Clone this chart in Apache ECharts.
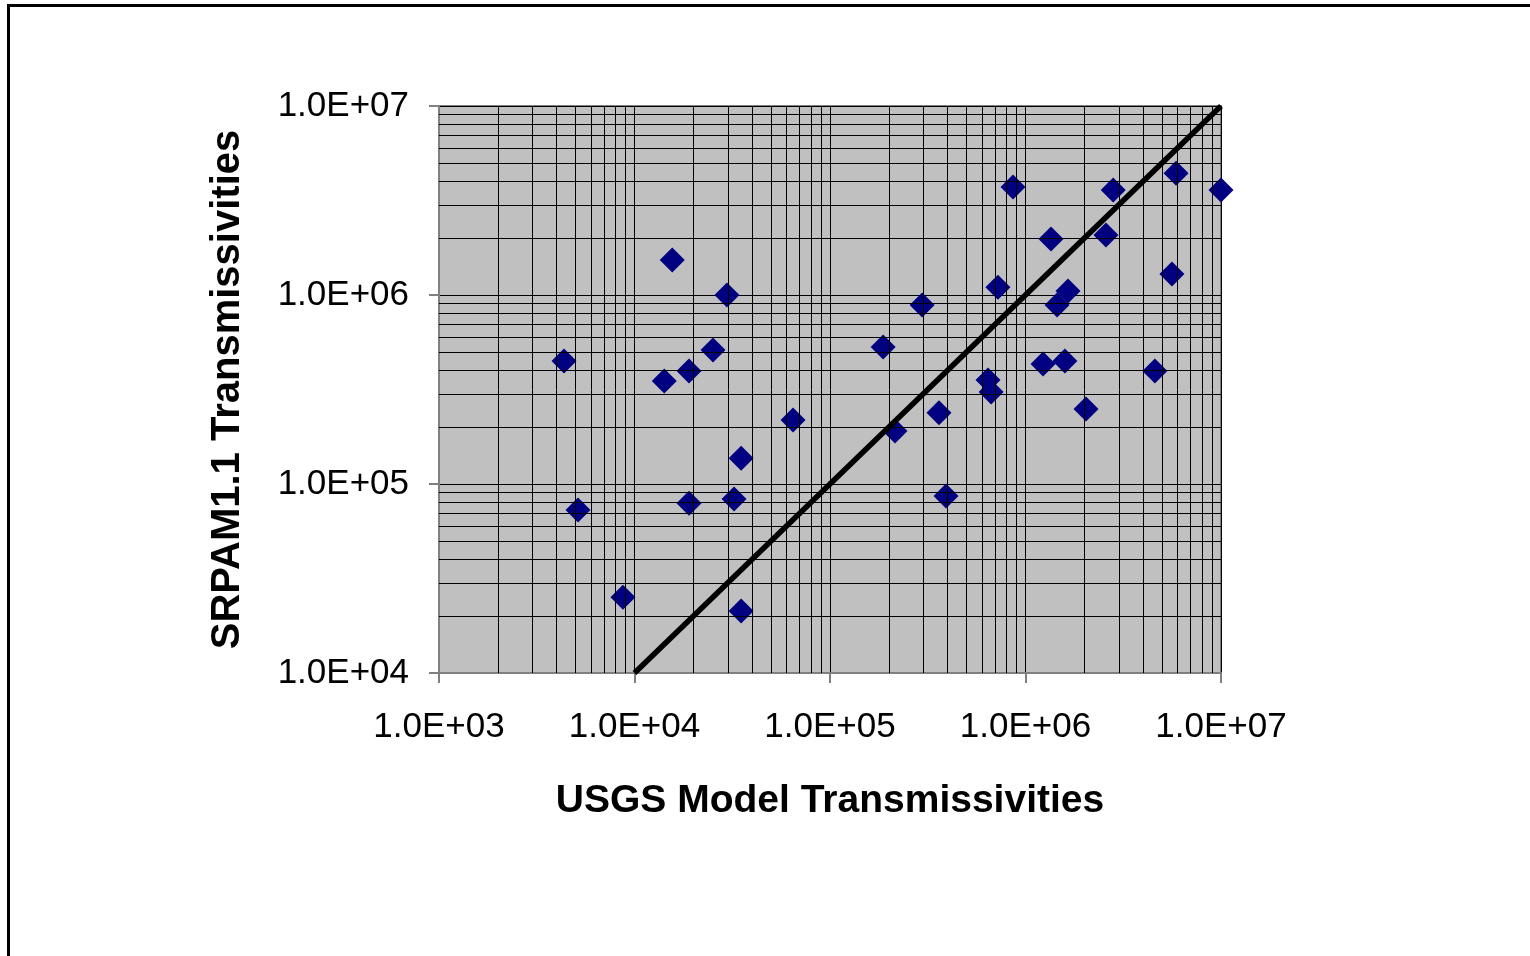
<!DOCTYPE html>
<html>
<head>
<meta charset="utf-8">
<style>
  html, body { margin: 0; padding: 0; background: #ffffff; }
  #chart { width: 1530px; height: 956px; }
</style>
<script src="https://cdn.jsdelivr.net/npm/echarts@6/dist/echarts.min.js"></script>
</head>
<body>
<div id="chart"></div>
<script>
// ---- Data ----
const usgsT = [4.36e3, 5.14e3, 8.73e3, 1.42e4, 1.56e4, 1.90e4, 1.90e4, 2.52e4, 2.97e4, 3.23e4,
               3.51e4, 3.51e4, 6.47e4, 1.87e5, 2.15e5, 2.96e5, 3.61e5, 3.92e5, 6.43e5, 6.67e5,
               7.23e5, 8.63e5, 1.23e6, 1.35e6, 1.45e6, 1.65e6, 1.59e6, 2.04e6, 2.58e6, 2.81e6,
               4.59e6, 5.61e6, 5.89e6, 1.00e7];
const srpamT = [4.48e5, 7.28e4, 2.52e4, 3.51e5, 1.53e6, 3.96e5, 7.92e4, 5.12e5, 1.00e6, 8.34e4,
                1.37e5, 2.13e4, 2.18e5, 5.31e5, 1.91e5, 8.85e5, 2.38e5, 8.65e4, 3.55e5, 3.07e5,
                1.10e6, 3.73e6, 4.32e5, 1.98e6, 8.85e5, 1.05e6, 4.48e5, 2.49e5, 2.08e6, 3.59e6,
                3.96e5, 1.29e6, 4.41e6, 3.59e6];
// 1:1 reference line
const lineX = [1e4, 1e7];
const lineY = [1e4, 1e7];

// Tick labels
const xTickLabels = ['1.0E+03', '1.0E+04', '1.0E+05', '1.0E+06', '1.0E+07'];
const yTickLabels = ['1.0E+04', '1.0E+05', '1.0E+06', '1.0E+07'];

// Minor gridline values (2..9 within each decade)
const xMinorGrid = [2e3,3e3,4e3,5e3,6e3,7e3,8e3,9e3, 2e4,3e4,4e4,5e4,6e4,7e4,8e4,9e4,
                    2e5,3e5,4e5,5e5,6e5,7e5,8e5,9e5, 2e6,3e6,4e6,5e6,6e6,7e6,8e6,9e6];
const yMinorGrid = [2e4,3e4,4e4,5e4,6e4,7e4,8e4,9e4, 2e5,3e5,4e5,5e5,6e5,7e5,8e5,9e5,
                    2e6,3e6,4e6,5e6,6e6,7e6,8e6,9e6];

const FONT = '"Liberation Sans", Arial, sans-serif';

const chart = echarts.init(document.getElementById('chart'), null, { renderer: 'canvas' });

const scatterData = usgsT.map((x, i) => [x, srpamT[i]]);
const lineData = lineX.map((x, i) => [x, lineY[i]]);

const option = {
  backgroundColor: '#ffffff',
  animation: false,
  graphic: [{
    type: 'rect',
    silent: true,
    shape: { x: 8.5, y: 5.5, width: 1600, height: 1000 },
    style: { fill: 'none', stroke: '#000000', lineWidth: 3 }
  }],
  grid: {
    left: 439, top: 106, right: 309, bottom: 283,
    show: true,
    backgroundColor: '#C0C0C0',
    borderColor: '#808080',
    borderWidth: 2
  },
  xAxis: {
    type: 'log',
    logBase: 10,
    min: 1e3,
    max: 1e7,
    name: 'USGS Model Transmissivities',
    nameLocation: 'middle',
    nameGap: 109,
    nameTextStyle: { fontFamily: FONT, fontSize: 39, fontWeight: 'bold', color: '#000' },
    axisLine: { show: true, onZero: false, lineStyle: { color: '#808080', width: 2 } },
    axisTick: { show: true, length: 10, lineStyle: { color: '#808080', width: 2 } },
    axisLabel: {
      margin: 37,
      fontFamily: FONT, fontSize: 35, color: '#000',
      formatter: v => xTickLabels[Math.round(Math.log10(v)) - 3]
    },
    splitLine: { show: true, lineStyle: { color: '#000', width: 1 } },
    minorTick: { show: false },
    minorSplitLine: { show: false }
  },
  yAxis: {
    type: 'log',
    logBase: 10,
    min: 1e4,
    max: 1e7,
    name: 'SRPAM1.1 Transmissivities',
    nameLocation: 'middle',
    nameGap: 191,
    nameRotate: 90,
    nameTextStyle: { fontFamily: FONT, fontSize: 40, fontWeight: 'bold', color: '#000' },
    axisLine: { show: true, onZero: false, lineStyle: { color: '#808080', width: 2 } },
    axisTick: { show: true, length: 10, lineStyle: { color: '#808080', width: 2 } },
    axisLabel: {
      margin: 30,
      fontFamily: FONT, fontSize: 35, color: '#000',
      formatter: v => yTickLabels[Math.round(Math.log10(v)) - 4]
    },
    splitLine: { show: true, lineStyle: { color: '#000', width: 1 } }
  },
  series: [
    {
      name: 'minor grid',
      type: 'line',
      data: [],
      silent: true,
      z: 1,
      markLine: {
        silent: true,
        symbol: ['none', 'none'],
        label: { show: false },
        lineStyle: { color: '#000', width: 1, type: 'solid' },
        emphasis: { disabled: true },
        data: xMinorGrid.map(v => ({ xAxis: v })).concat(yMinorGrid.map(v => ({ yAxis: v })))
      }
    },
    {
      name: 'SRPAM1.1 vs USGS',
      type: 'scatter',
      data: scatterData,
      symbol: 'diamond',
      symbolSize: [25, 25],
      itemStyle: { color: '#000080', opacity: 1 },
      z: 3
    },
    {
      name: '1:1',
      type: 'line',
      data: lineData,
      showSymbol: false,
      symbol: 'none',
      lineStyle: { color: '#000000', width: 5.5 },
      z: 4
    }
  ]
};

chart.setOption(option);
</script>
</body>
</html>
